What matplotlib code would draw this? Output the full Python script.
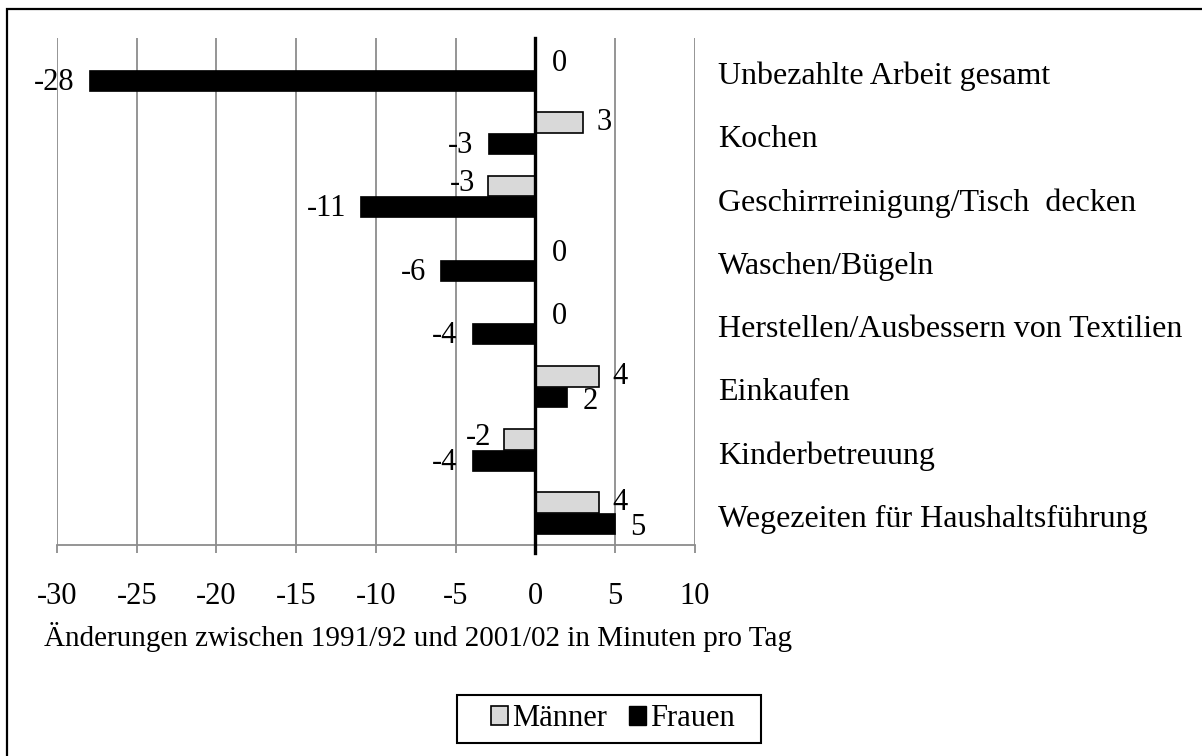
import numpy as np
import matplotlib.pyplot as plt
from matplotlib.patches import Rectangle, Patch

# Daten
categories = ["Unbezahlte Arbeit gesamt", "Kochen", "Geschirrreinigung/Tisch  decken",
              "Waschen/Bügeln", "Herstellen/Ausbessern von Textilien", "Einkaufen",
              "Kinderbetreuung", "Wegezeiten für Haushaltsführung"]
maenner = [0, 3, -3, 0, 0, 4, -2, 4]
frauen = [-28, -3, -11, -6, -4, 2, -4, 5]
xticks = [-30, -25, -20, -15, -10, -5, 0, 5, 10]

plt.rcParams['font.family'] = ['Liberation Serif', 'DejaVu Serif']
fs = 22

fig = plt.figure(figsize=(12.02, 7.56), dpi=100)
ax = fig.add_axes([57 / 1202, 1 - 545 / 756, 638 / 1202, 507 / 756])

y = np.arange(len(categories))
h = 0.33
ax.barh(y - h / 2, maenner, height=h, color='#d9d9d9', edgecolor='black', linewidth=1.2, zorder=3)
ax.barh(y + h / 2, frauen, height=h, color='black', edgecolor='black', linewidth=0.5, zorder=3)

# Datenbeschriftungen
for i, v in enumerate(maenner):
    if v > 0:
        off, ha, dy = 13, 'left', 0
    elif v < 0:
        off, ha, dy = -12, 'right', 2
    else:
        off, ha, dy = 16, 'left', -4
    ax.annotate(str(v), (v, i - h / 2), xytext=(off, dy), textcoords='offset pixels',
                ha=ha, va='center', fontsize=fs)
for i, v in enumerate(frauen):
    if v > 0:
        off, ha, dy = 15, 'left', -4
    else:
        off, ha, dy = -14, 'right', -2
    ax.annotate(str(v), (v, i + h / 2), xytext=(off, dy), textcoords='offset pixels',
                ha=ha, va='center', fontsize=fs)

# Kategorienamen rechts
for i, c in enumerate(categories):
    ax.text(1.036, i + 0.1, c, transform=ax.get_yaxis_transform(), ha='left', va='center',
            fontsize=23)

ax.set_xlim(-30, 10)
ax.set_ylim(len(categories) - 0.5, -0.5)
ax.set_xticks(xticks)
ax.set_xticklabels([str(t) for t in xticks], fontsize=fs)
ax.set_yticks([])
ax.xaxis.grid(True, color='#8c8c8c', linewidth=1.3, zorder=0)
ax.tick_params(axis='x', direction='out', length=6, width=1.3, color='#8c8c8c', pad=21)
for s in ['top', 'right', 'left']:
    ax.spines[s].set_visible(False)
ax.spines['bottom'].set_color('#8c8c8c')
ax.spines['bottom'].set_linewidth(1.3)
ax.axvline(0, ymin=-0.016, ymax=1, color='black', linewidth=2.4, zorder=4, clip_on=False)

fig.text(418 / 1202, 1 - 637 / 756, "Änderungen zwischen 1991/92 und 2001/02 in Minuten pro Tag",
         ha='center', va='center', fontsize=21)

# Legende mit eigenem Rahmen
handles = [Patch(facecolor='#d9d9d9', edgecolor='black', linewidth=1.2),
           Patch(facecolor='black', edgecolor='black')]
leg = fig.legend(handles, ["Männer", "Frauen"], loc='center', bbox_to_anchor=(613 / 1202, 1 - 719 / 756),
                 ncol=2, fontsize=fs, frameon=False, handlelength=0.55,
                 handleheight=0.55, handletextpad=0.15, columnspacing=0.7, borderpad=0.25,
                 borderaxespad=0)
fig.patches.append(Rectangle((457 / 1202, 1 - 743 / 756), 304 / 1202, 48 / 756,
                             transform=fig.transFigure, fill=False, edgecolor='black', linewidth=1.5))

# Rahmen um das Diagramm
fig.patches.append(Rectangle((7 / 1202, -0.02), 1.05, 1 - 9 / 756 + 0.02, transform=fig.transFigure,
                             fill=False, edgecolor='black', linewidth=1.6))

fig.savefig("out.png", dpi=100)
